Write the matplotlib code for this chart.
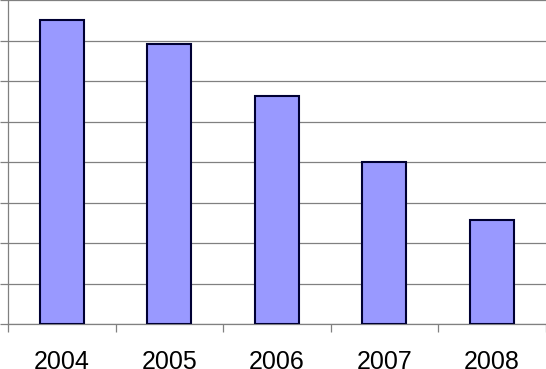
import numpy as np
import matplotlib.pyplot as plt

years = ['2004', '2005', '2006', '2007', '2008']
values = [7.5, 6.92, 5.63, 4.0, 2.58]

fig = plt.figure(figsize=(5.46, 3.69), dpi=100)
ax = fig.add_axes([8 / 546, 45 / 369, 537.5 / 546, 324 / 369])

x = np.arange(len(years))
ax.bar(x, values, width=0.41, color='#9999ff', edgecolor='#000033', linewidth=1.5, zorder=3)

ax.set_xlim(-0.5, len(years) - 0.5)
ax.set_ylim(0, 8)

# gridlines every unit, ticks stick out to the left
ax.set_yticks(np.arange(0, 9))
ax.set_yticklabels([])
ax.yaxis.grid(True, color='#808080', linewidth=0.9, zorder=0)
ax.tick_params(axis='y', length=6, width=0.9, color='#808080', direction='out')

# category boundaries get the tick marks, labels sit in the middle
ax.set_xticks(np.arange(-0.5, len(years)), minor=False)
ax.set_xticklabels([])
ax.set_xticks(x, minor=True)
ax.set_xticklabels(years, minor=True, fontsize=18, family='Liberation Sans')
ax.tick_params(axis='x', which='major', length=6, width=0.9, color='#808080', direction='out')
ax.tick_params(axis='x', which='minor', length=0, pad=19)

for side in ['top', 'right']:
    ax.spines[side].set_visible(False)
for side in ['left', 'bottom']:
    ax.spines[side].set_color('#808080')
    ax.spines[side].set_linewidth(0.9)

fig.savefig('out.png', dpi=100)
